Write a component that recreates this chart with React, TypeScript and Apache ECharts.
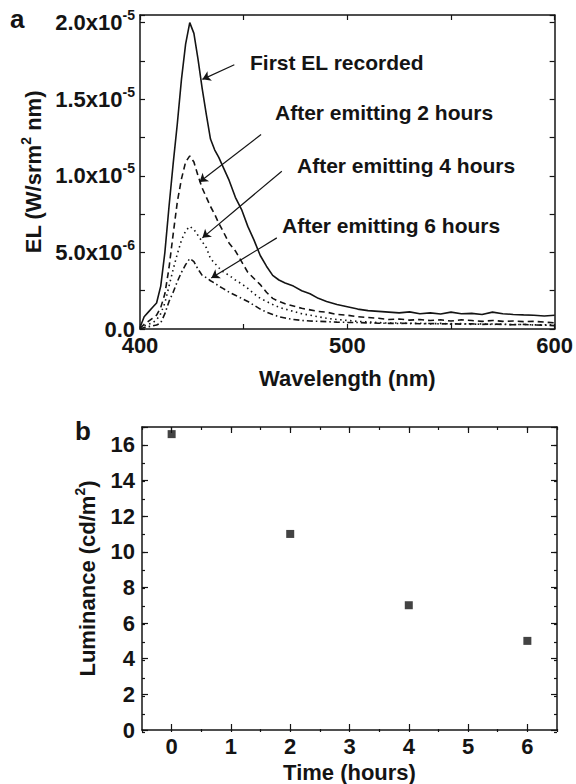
import React, { useEffect, useRef } from "react";
import * as echarts from "echarts";

// ---------- Panel a: EL spectra (values in units of 1e-6 W/srm^2 nm) ----------
const wavelengths = [
  400, 402, 404, 406, 408, 410, 412, 414, 416, 418, 420, 422, 424, 426, 428, 430,
  432, 434, 436, 438, 440, 443, 446, 449, 452, 455, 458, 461, 464, 467, 470, 474,
  478, 482, 486, 490, 495, 500, 505, 510, 515, 520, 525, 530, 535, 540, 545, 550,
  555, 560, 565, 570, 575, 580, 585, 590, 595, 600,
];
const elFirst = [
  0.1, 0.8, 1.1, 1.4, 1.7, 2.8, 5.0, 8.0, 10.8, 13.4, 16.3, 18.6, 20.0, 19.3, 17.6, 15.7,
  14.0, 12.4, 11.7, 11.2, 10.6, 9.7, 8.6, 7.8, 6.7, 5.8, 4.8, 4.1, 3.5, 3.2, 3.0, 2.8,
  2.5, 2.3, 2.0, 1.8, 1.6, 1.45, 1.3, 1.2, 1.15, 1.1, 1.05, 1.12, 1.0, 1.05, 0.98, 1.1,
  1.0, 1.02, 0.95, 1.1, 1.0, 0.95, 0.92, 0.9, 0.85, 0.9,
];
const el2h = [
  0.05, 0.3, 0.5, 0.7, 0.9, 1.4, 2.3, 4.0, 6.2, 8.3, 9.8, 10.9, 11.3, 10.9, 10.0, 9.2,
  8.6, 8.0, 7.5, 6.9, 6.4, 5.6, 5.1, 4.4, 3.7, 3.3, 2.9, 2.4, 2.0, 1.8, 1.65, 1.5,
  1.35, 1.25, 1.15, 1.1, 0.95, 0.9, 0.8, 0.75, 0.7, 0.62, 0.65, 0.58, 0.62, 0.55, 0.6, 0.52,
  0.6, 0.55, 0.5, 0.56, 0.5, 0.52, 0.48, 0.5, 0.45, 0.4,
];
const el4h = [
  0.05, 0.2, 0.3, 0.4, 0.6, 1.0, 1.7, 2.8, 3.9, 4.9, 5.8, 6.4, 6.7, 6.5, 6.1, 5.7,
  5.3, 4.6, 4.3, 4.0, 3.75, 3.5, 3.2, 2.95, 2.65, 2.3, 2.0, 1.8, 1.6, 1.42, 1.3, 1.15,
  1.0, 0.9, 0.8, 0.7, 0.62, 0.56, 0.5, 0.46, 0.42, 0.38, 0.4, 0.35, 0.38, 0.33, 0.37, 0.32,
  0.36, 0.3, 0.34, 0.3, 0.32, 0.28, 0.3, 0.27, 0.28, 0.26,
];
const el6h = [
  0.0, 0.1, 0.15, 0.2, 0.26, 0.4, 1.0, 1.8, 2.4, 3.1, 3.7, 4.2, 4.6, 4.4, 3.9, 3.5,
  3.35, 3.15, 3.0, 2.8, 2.65, 2.4, 2.2, 2.0, 1.8, 1.55, 1.3, 1.1, 0.95, 0.8, 0.72, 0.62,
  0.56, 0.52, 0.5, 0.48, 0.45, 0.43, 0.42, 0.4, 0.38, 0.37, 0.36, 0.38, 0.34, 0.36, 0.33, 0.35,
  0.32, 0.34, 0.3, 0.33, 0.3, 0.28, 0.3, 0.26, 0.25, 0.22,
];
const EL_UNIT = 1e-6;
const elTickLabels = ["0.0", "5.0x10|-6", "1.0x10|-5", "1.5x10|-5", "2.0x10|-5"];
const wlTickLabels = [400, 500, 600];

// annotations: text, arrow start (wl, EL), arrow end (wl, EL)
const annotationTexts = ["First EL recorded", "After emitting 2 hours", "After emitting 4 hours", "After emitting 6 hours"];
const arrowStarts = [[445.5, 17.25], [458.4, 12.7], [468.4, 10.3], [466.0, 5.95]];
const arrowEnds = [[430.1, 16.3], [428.7, 9.6], [430.1, 5.95], [434.4, 3.33]];

// ---------- Panel b: luminance vs time ----------
const timeHours = [0, 2, 4, 6];
const luminance = [16.6, 11.0, 7.0, 5.0];
const timeTickValues = [0, 1, 2, 3, 4, 5, 6];

const FONT = "'Liberation Sans', Arial, Helvetica, sans-serif";
const INK = "#141414";

export default function App() {
  const ref = useRef<HTMLDivElement>(null);

  useEffect(() => {
    if (!ref.current) return;
    const chart = echarts.init(ref.current, undefined, { renderer: "svg" });

    const bold = { fontFamily: FONT, fontWeight: "bold" as const, color: INK };
    const tickFont = { ...bold, fontSize: 22, lineHeight: 14 };
    const titleFont = { ...bold, fontSize: 22 };
    const rich = {
      b: { ...bold, fontSize: 22, lineHeight: 14 },
      s: { ...bold, fontSize: 14, padding: [0, 0, 15, 0] },
    };
    const titleRich = {
      s: { ...bold, fontSize: 14, padding: [0, 0, 15, 0] },
    };
    const line = () => ({ show: true, onZero: false, lineStyle: { color: INK, width: 1.5 } });
    const noLine = () => ({ show: false, onZero: false });
    const tick = (length: number, extra: any = {}) => ({
      show: true, inside: true, length, lineStyle: { color: INK, width: 1.2 }, ...extra,
    });

    const elFormatter = (v: number) => {
      const r = v / 5e-6;
      const k = Math.round(r);
      if (Math.abs(r - k) > 1e-6 || k < 0 || k >= elTickLabels.length) return "";
      const parts = elTickLabels[k].split("|");
      return parts.length > 1 ? `{b|${parts[0]}}{s|${parts[1]}}` : `{b|${parts[0]}}`;
    };

    const mkSeries = (vals: number[], type: any) => ({
      type: "line",
      xAxisIndex: 0,
      yAxisIndex: 0,
      showSymbol: false,
      symbol: "none",
      silent: true,
      lineStyle: { color: INK, width: 1.6, type },
      data: wavelengths.map((w, i) => [w, vals[i] * EL_UNIT]),
    });

    const first: any = mkSeries(elFirst, "solid");
    first.markLine = {
      silent: true,
      symbol: ["none", "arrow"],
      symbolSize: 8,
      label: { show: false },
      lineStyle: { color: INK, width: 1.2, type: "solid" },
      data: arrowStarts.map((s, i) => [
        { coord: [s[0], s[1] * EL_UNIT] },
        { coord: [arrowEnds[i][0], arrowEnds[i][1] * EL_UNIT] },
      ]),
    };

    const textPos = [
      [250, 62.5],
      [275, 112.5],
      [297, 165.5],
      [282, 225.5],
    ];

    const g1 = { left: 142, top: 427, width: 415, height: 305 };

    chart.setOption({
      animation: false,
      grid: [
        { left: 140, top: 15, width: 418, height: 314 },
        { ...g1 },
        { ...g1 },
      ],
      xAxis: [
        // panel a
        {
          gridIndex: 0, type: "value", position: "bottom", min: 400, max: 600, interval: 50,
          axisLine: line(), splitLine: { show: false }, axisTick: tick(5),
          axisLabel: {
            ...tickFont, margin: 9,
            formatter: (v: number) => (wlTickLabels.includes(v) ? String(v) : ""),
          },
          name: "Wavelength (nm)", nameLocation: "middle", nameGap: 38,
          nameTextStyle: { ...titleFont },
        },
        {
          gridIndex: 0, type: "value", position: "top", min: 400, max: 600, interval: 50,
          axisLine: line(), splitLine: { show: false }, axisTick: tick(5),
          axisLabel: { show: false },
        },
        // panel b, major
        {
          gridIndex: 1, type: "value", position: "bottom", min: -0.5, max: 6.5,
          axisLine: line(), splitLine: { show: false },
          axisTick: tick(6, { customValues: timeTickValues }),
          axisLabel: { ...tickFont, margin: 9, customValues: timeTickValues },
          name: "Time (hours)", nameLocation: "middle", nameGap: 31,
          nameTextStyle: { ...titleFont },
        },
        {
          gridIndex: 1, type: "value", position: "top", min: -0.5, max: 6.5,
          axisLine: line(), splitLine: { show: false },
          axisTick: tick(6, { customValues: timeTickValues }),
          axisLabel: { show: false },
        },
        // panel b, minor ticks
        {
          gridIndex: 2, type: "value", position: "bottom", min: -0.5, max: 6.5, interval: 0.5,
          axisLine: noLine(), splitLine: { show: false }, axisTick: tick(3),
          axisLabel: { show: false },
        },
        {
          gridIndex: 2, type: "value", position: "top", min: -0.5, max: 6.5, interval: 0.5,
          axisLine: noLine(), splitLine: { show: false }, axisTick: tick(3),
          axisLabel: { show: false },
        },
      ],
      yAxis: [
        // panel a
        {
          gridIndex: 0, type: "value", position: "left", min: 0, max: 2.05e-5, interval: 2.5e-6,
          axisLine: line(), splitLine: { show: false }, axisTick: tick(5),
          axisLabel: { margin: 5, formatter: elFormatter, rich },
          name: "EL (W/srm{s|2} nm)", nameLocation: "middle", nameGap: 90, nameRotate: 90,
          nameTextStyle: { ...titleFont, rich: titleRich },
        },
        {
          gridIndex: 0, type: "value", position: "right", min: 0, max: 2.05e-5, interval: 2.5e-6,
          axisLine: line(), splitLine: { show: false }, axisTick: tick(5),
          axisLabel: { show: false },
        },
        // panel b, major
        {
          gridIndex: 1, type: "value", position: "left", min: 0, max: 17, interval: 2,
          axisLine: line(), splitLine: { show: false }, axisTick: tick(6),
          axisLabel: {
            ...tickFont, margin: 7,
            formatter: (v: number) => (v % 2 === 0 ? String(v) : ""),
          },
          name: "Luminance (cd/m{s|2})", nameLocation: "middle", nameGap: 40, nameRotate: 90,
          nameTextStyle: { ...titleFont, rich: titleRich },
        },
        {
          gridIndex: 1, type: "value", position: "right", min: 0, max: 17, interval: 2,
          axisLine: line(), splitLine: { show: false }, axisTick: tick(6),
          axisLabel: { show: false },
        },
        // panel b, minor ticks
        {
          gridIndex: 2, type: "value", position: "left", min: 0, max: 17, interval: 1,
          axisLine: noLine(), splitLine: { show: false }, axisTick: tick(3),
          axisLabel: { show: false },
        },
        {
          gridIndex: 2, type: "value", position: "right", min: 0, max: 17, interval: 1,
          axisLine: noLine(), splitLine: { show: false }, axisTick: tick(3),
          axisLabel: { show: false },
        },
      ],
      series: [
        first,
        mkSeries(el2h, [6, 4]),
        mkSeries(el4h, [1.5, 3.5]),
        mkSeries(el6h, [6, 3, 1.5, 3]),
        {
          type: "scatter",
          xAxisIndex: 2,
          yAxisIndex: 2,
          symbol: "rect",
          symbolSize: 8,
          silent: true,
          itemStyle: { color: INK },
          data: timeHours.map((t, i) => [t, luminance[i]]),
        },
      ],
      graphic: [
        ...annotationTexts.map((t, i) => ({
          type: "text",
          x: textPos[i][0],
          y: textPos[i][1],
          style: { text: t, font: `bold 21px ${FONT}`, fill: INK, verticalAlign: "middle", align: "left" },
        })),
        {
          type: "text", x: 10, y: 19,
          style: { text: "a", font: `bold 26px ${FONT}`, fill: INK, verticalAlign: "middle" },
        },
        {
          type: "text", x: 75, y: 431,
          style: { text: "b", font: `bold 26px ${FONT}`, fill: INK, verticalAlign: "middle" },
        },
      ],
    });

    return () => chart.dispose();
  }, []);

  return (
    <div
      ref={ref}
      style={{ position: "fixed", left: 0, top: 0, width: 576, height: 784, background: "#fff" }}
    />
  );
}
